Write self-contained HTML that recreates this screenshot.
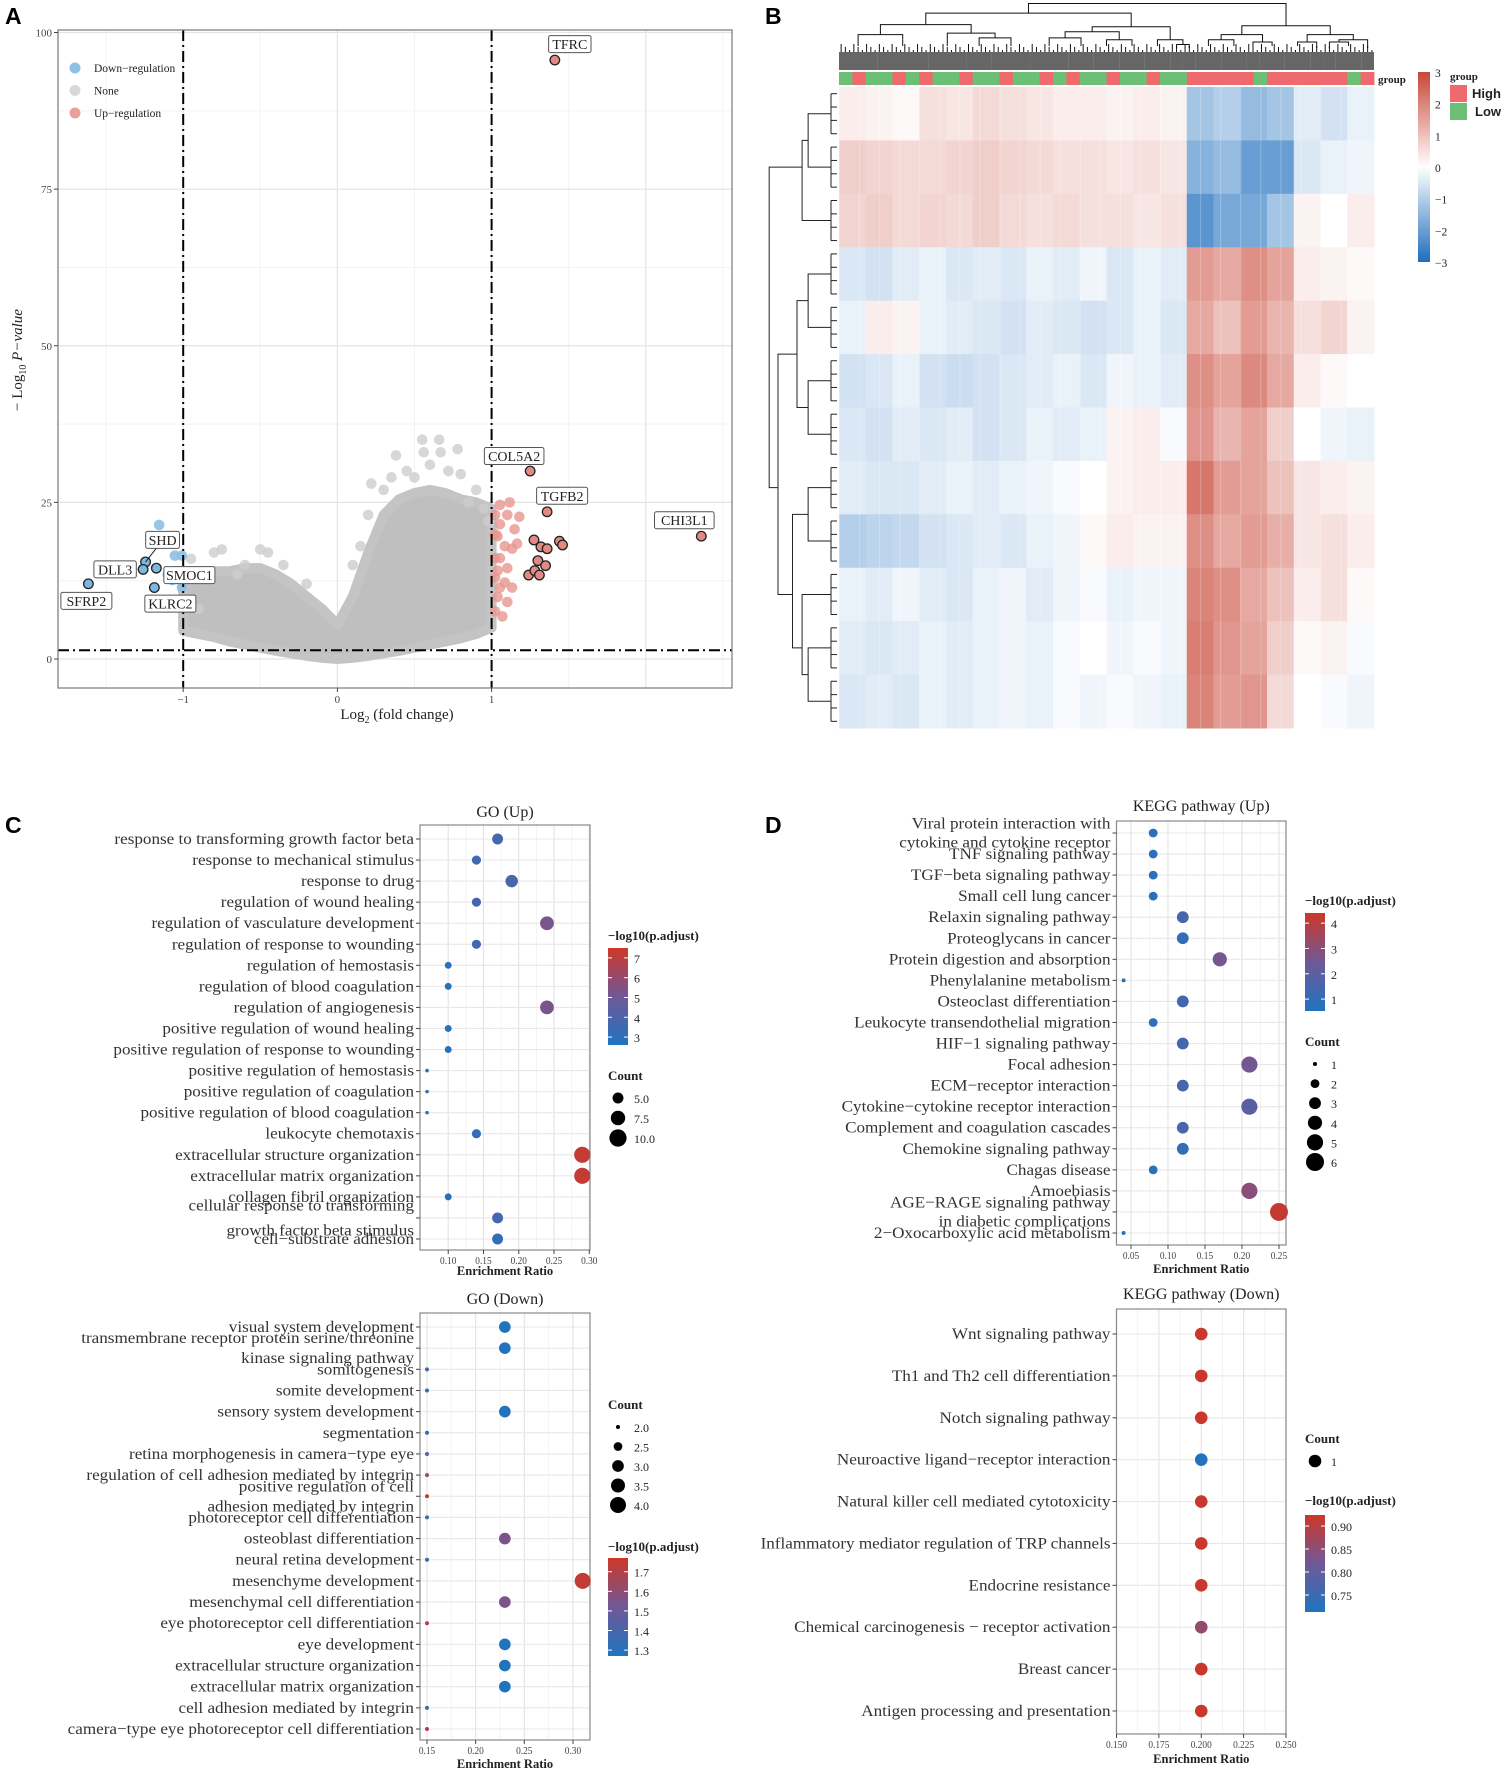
<!DOCTYPE html>
<html><head><meta charset="utf-8"><title>Figure</title>
<style>
html,body{margin:0;padding:0;background:#fff;}
svg{display:block;font-family:"Liberation Serif",serif;}
.sans{font-family:"Liberation Sans",sans-serif;}
</style></head>
<body>
<svg id="fig" xmlns="http://www.w3.org/2000/svg" width="1509" height="1772" viewBox="0 0 1509 1772"></svg>
<script>
// ---------- Panel A data ----------
const envX = [-1.0,-0.9,-0.8,-0.7,-0.6,-0.5,-0.4,-0.3,-0.2,-0.1,0,0.1,0.2,0.3,0.4,0.5,0.6,0.7,0.8,0.9,1.0];
const envUpper = [12,13,14,14,14.5,14.5,13.5,12,10,8,5.5,10,17,23,25.5,26.5,27,26.5,25.5,25,24];
const envLower = [4.5,4,3.5,2.8,2.3,1.8,1.3,0.9,0.5,0.2,0,0.2,0.5,0.9,1.3,1.8,2.3,2.8,3.3,4,5];
const grayX = [-0.95,-0.8,-0.75,-0.5,-0.45,-0.6,-0.35,-0.2,0.1,0.15,0.2,0.22,0.35,0.38,0.45,0.5,0.55,0.56,0.66,0.67,0.72,0.78,0.8,0.85,0.9,0.95,-0.9,-0.85,-0.65,0.3,0.6,0.98];
const grayY = [16,17,17.5,17.5,17,15,15,12,15,18,23,28,29,32.5,30,29,35,33,35,33,30,33.5,29.5,25,27,24,8,14,13.5,27,31,22];
const upX = [1.023,1.054,1.117,1.102,1.180,1.149,1.039,1.054,1.086,1.133,1.023,1.054,1.102,1.039,1.086,1.023,1.054,1.133,1.039,1.102,1.023,1.070,1.023,1.165];
const upY = [23.0,24.6,25.0,23.0,22.7,20.7,19.6,21.5,18.0,17.6,16.1,16.1,14.5,14.1,12.2,13.0,11.4,11.4,9.9,9.1,7.6,6.8,19.9,18.4];
const downX = [-1.156,-1.054,-1.008,-1.07,-1.008,-1.1];
const downY = [21.4,16.5,16.5,12.6,11.4,13.5];
const hlUpX = [1.275,1.32,1.36,1.44,1.46,1.24,1.28,1.30,1.31,1.35];
const hlUpY = [19.0,17.9,17.6,18.8,18.2,13.4,14.1,15.7,13.4,14.9];
const genes = ['TFRC','COL5A2','TGFB2','CHI3L1','SHD','DLL3','SMOC1','KLRC2','SFRP2'];
const geneX = [1.41,1.25,1.36,2.36,-1.244,-1.26,-1.174,-1.187,-1.615];
const geneY = [95.6,30,23.5,19.6,15.5,14.3,14.5,11.4,12.0];
const geneDir = ['up','up','up','up','down','down','down','down','down'];
const yTicksA = [0,25,50,75,100];
const xTicksA = [-1,0,1];

// ---------- Panel B data ----------
const heat = [
 [0.3,0.2,0.1,0.5,0.4,0.6,0.5,0.4,0.3,0.3,0.2,0.3,0.2,-1.2,-1.0,-1.4,-1.2,-0.4,-0.6,-0.3],
 [0.8,0.7,0.6,0.6,0.7,0.8,0.7,0.6,0.5,0.5,0.4,0.5,0.4,-1.6,-1.4,-2.0,-2.0,-0.5,-0.3,-0.2],
 [0.7,0.8,0.6,0.7,0.6,0.8,0.6,0.5,0.6,0.5,0.5,0.4,0.5,-2.2,-1.8,-1.8,-1.2,0.2,0.0,0.3],
 [-0.5,-0.6,-0.4,-0.3,-0.5,-0.4,-0.5,-0.3,-0.4,-0.2,-0.5,-0.3,-0.4,1.6,1.4,1.8,1.5,0.3,0.2,0.1],
 [-0.3,0.3,0.2,-0.3,-0.4,-0.5,-0.6,-0.4,-0.5,-0.6,-0.5,-0.3,-0.5,1.4,1.0,1.6,1.2,0.5,0.7,0.2],
 [-0.6,-0.5,-0.3,-0.6,-0.7,-0.6,-0.5,-0.4,-0.3,-0.5,-0.2,-0.3,-0.4,1.8,1.5,1.9,1.4,0.3,0.1,0.0],
 [-0.5,-0.6,-0.4,-0.5,-0.4,-0.6,-0.5,-0.3,-0.4,-0.3,0.2,0.3,-0.1,1.7,1.2,1.5,0.8,0.0,-0.2,-0.3],
 [-0.4,-0.5,-0.5,-0.4,-0.3,-0.4,-0.3,-0.2,-0.1,0.0,0.2,0.3,0.3,2.2,1.6,1.5,1.0,0.4,0.3,0.2],
 [-1.0,-0.9,-0.8,-0.6,-0.5,-0.4,-0.5,-0.3,-0.2,0.1,0.3,0.2,0.2,1.8,1.4,1.6,1.3,0.4,0.5,0.3],
 [-0.3,-0.4,-0.2,-0.4,-0.5,-0.3,-0.2,-0.4,-0.2,-0.1,-0.3,-0.2,-0.2,2.0,1.8,1.4,1.0,0.3,0.5,0.1],
 [-0.4,-0.5,-0.4,-0.3,-0.4,-0.3,-0.2,-0.3,-0.1,0.0,-0.2,-0.1,-0.2,2.1,1.7,1.5,0.8,0.1,0.2,-0.1],
 [-0.5,-0.4,-0.5,-0.3,-0.4,-0.3,-0.2,-0.3,-0.1,-0.2,-0.1,-0.2,-0.3,2.0,1.6,1.7,0.6,0.0,-0.1,-0.2]
];
const groupBands = ['L','H','L','L','H','L','H','L','L','H','L','L','H','L','L','H','L','H','L','L','H','L','L','H','L','L','H','H','H','H','H','L','H','H','H','H','H','H','L','H'];
const colTree = [[[[3,4],[3,[2,3]]],[[[3,2],[2,2]],[2,[1,1]]]],[[[2,2],[1,2]],[[2,1],[[1,2],1]]]];
const rowTree = [[[1,1],1],[[[1,1],[1,1]],[[1,1],[1,[1,1]]]]];
const heatTicks = [3,2,1,0,-1,-2,-3];

// ---------- Panel C/D data ----------
const goUpTerms = ['response to transforming growth factor beta','response to mechanical stimulus','response to drug','regulation of wound healing','regulation of vasculature development','regulation of response to wounding','regulation of hemostasis','regulation of blood coagulation','regulation of angiogenesis','positive regulation of wound healing','positive regulation of response to wounding','positive regulation of hemostasis','positive regulation of coagulation','positive regulation of blood coagulation','leukocyte chemotaxis','extracellular structure organization','extracellular matrix organization','collagen fibril organization','cellular response to transforming|growth factor beta stimulus','cell\u2212substrate adhesion'];
const goUpRatio = [0.17,0.14,0.19,0.14,0.24,0.14,0.10,0.10,0.24,0.10,0.10,0.07,0.07,0.07,0.14,0.29,0.29,0.10,0.17,0.17];
const goUpP = [3.8,3.6,3.9,3.7,5.3,3.6,2.9,2.9,5.3,2.9,2.9,2.8,2.8,2.8,3.1,7.2,7.2,3.0,3.6,3.2];
const goUpCount = [5,4,6,4,7,4,3,3,7,3,3,2,2,2,4,9,9,3,5,5];
const goUpXTicks = [0.10,0.15,0.20,0.25,0.30];
const goUpPTicks = [3,4,5,6,7];
const goUpCountTicks = [5.0,7.5,10.0];

const goDownTerms = ['visual system development','transmembrane receptor protein serine/threonine|kinase signaling pathway','somitogenesis','somite development','sensory system development','segmentation','retina morphogenesis in camera\u2212type eye','regulation of cell adhesion mediated by integrin','positive regulation of cell|adhesion mediated by integrin','photoreceptor cell differentiation','osteoblast differentiation','neural retina development','mesenchyme development','mesenchymal cell differentiation','eye photoreceptor cell differentiation','eye development','extracellular structure organization','extracellular matrix organization','cell adhesion mediated by integrin','camera\u2212type eye photoreceptor cell differentiation'];
const goDownRatio = [0.23,0.23,0.15,0.15,0.23,0.15,0.15,0.15,0.15,0.15,0.23,0.15,0.31,0.23,0.15,0.23,0.23,0.23,0.15,0.15];
const goDownP = [1.28,1.28,1.4,1.3,1.28,1.3,1.42,1.6,1.72,1.36,1.55,1.35,1.74,1.55,1.68,1.28,1.28,1.28,1.36,1.68];
const goDownCount = [3,3,2,2,3,2,2,2,2,2,3,2,4,3,2,3,3,3,2,2];
const goDownXTicks = [0.15,0.20,0.25,0.30];
const goDownPTicks = [1.3,1.4,1.5,1.6,1.7];
const goDownCountTicks = [2.0,2.5,3.0,3.5,4.0];

const keggUpTerms = ['Viral protein interaction with|cytokine and cytokine receptor','TNF signaling pathway','TGF\u2212beta signaling pathway','Small cell lung cancer','Relaxin signaling pathway','Proteoglycans in cancer','Protein digestion and absorption','Phenylalanine metabolism','Osteoclast differentiation','Leukocyte transendothelial migration','HIF\u22121 signaling pathway','Focal adhesion','ECM\u2212receptor interaction','Cytokine\u2212cytokine receptor interaction','Complement and coagulation cascades','Chemokine signaling pathway','Chagas disease','Amoebiasis','AGE\u2212RAGE signaling pathway|in diabetic complications','2\u2212Oxocarboxylic acid metabolism'];
const keggUpRatio = [0.08,0.08,0.08,0.08,0.12,0.12,0.17,0.04,0.12,0.08,0.12,0.21,0.12,0.21,0.12,0.12,0.08,0.21,0.25,0.04];
const keggUpP = [0.8,0.8,0.8,0.8,1.5,1.0,2.6,0.7,1.4,0.8,1.4,2.5,1.5,1.9,1.5,1.0,0.8,3.0,4.2,0.7];
const keggUpCount = [2,2,2,2,3,3,4,1,3,2,3,5,3,5,3,3,2,5,6,1];
const keggUpXTicks = [0.05,0.10,0.15,0.20,0.25];
const keggUpPTicks = [1,2,3,4];
const keggUpCountTicks = [1,2,3,4,5,6];

const keggDownTerms = ['Wnt signaling pathway','Th1 and Th2 cell differentiation','Notch signaling pathway','Neuroactive ligand\u2212receptor interaction','Natural killer cell mediated cytotoxicity','Inflammatory mediator regulation of TRP channels','Endocrine resistance','Chemical carcinogenesis \u2212 receptor activation','Breast cancer','Antigen processing and presentation'];
const keggDownRatio = [0.2,0.2,0.2,0.2,0.2,0.2,0.2,0.2,0.2,0.2];
const keggDownP = [0.92,0.92,0.92,0.72,0.92,0.92,0.92,0.86,0.92,0.92];
const keggDownCount = [1,1,1,1,1,1,1,1,1,1];
const keggDownXTicks = [0.150,0.175,0.200,0.225,0.250];
const keggDownPTicks = [0.75,0.80,0.85,0.90];
const keggDownCountTicks = [1];

// ---------- helpers ----------
const svg = document.getElementById('fig');
const NS = 'http://www.w3.org/2000/svg';
function mk(tag, attrs, parent){
  const e = document.createElementNS(NS, tag);
  for (const k in attrs) e.setAttribute(k, attrs[k]);
  (parent || svg).appendChild(e);
  return e;
}
function nm(e, n, inter){
  
  
  return e;
}
function txt(x, y, s, size, anchor, extra, parent){
  const a = Object.assign({x:x, y:y, 'font-size':size, 'text-anchor':anchor||'start', fill:'#222'}, extra||{});
  const t = mk('text', a, parent);
  t.textContent = s;
  return t;
}
function grp(name){ const g = mk('g', {}); nm(g, name, false); return g; }

// ---------- Panel letters ----------
[['A',5,24],['B',765,24],['C',5,833],['D',765,833]].forEach(L=>{
  const t = txt(L[1], L[2], L[0], 23, 'start', {'font-weight':'bold', 'class':'sans', fill:'#000'});
  nm(t, 'panel-label-'+L[0].toLowerCase(), false);
});

// ---------- Panel A: volcano ----------
(function(){
  const g = grp('volcano-plot');
  const X0=58, X1=732, Y0=30, Y1=688;
  const xA = v => 337.4 + v*154.2;
  const yA = v => 659 - v*6.265;
  const bg = mk('rect',{x:X0,y:Y0,width:X1-X0,height:Y1-Y0,fill:'#fff'},g); nm(bg,'plot-background',false);
  [-1.5,-0.5,0.5,1.5,2.5].forEach(v=>{ const l=mk('line',{x1:xA(v),x2:xA(v),y1:Y0,y2:Y1,stroke:'#f3f3f3','stroke-width':1},g); nm(l,'minor-gridline',false);});
  [12.5,37.5,62.5,87.5].forEach(v=>{ const l=mk('line',{x1:X0,x2:X1,y1:yA(v),y2:yA(v),stroke:'#f3f3f3','stroke-width':1},g); nm(l,'minor-gridline',false);});
  [-1,0,1,2].forEach(v=>{ const l=mk('line',{x1:xA(v),x2:xA(v),y1:Y0,y2:Y1,stroke:'#e4e4e4','stroke-width':1.2},g); nm(l,'x-gridline',false);});
  yTicksA.forEach(v=>{ const l=mk('line',{x1:X0,x2:X1,y1:yA(v),y2:yA(v),stroke:'#e4e4e4','stroke-width':1.2},g); nm(l,'y-gridline',false);});
  let d='';
  envX.forEach((x,i)=>{ d += (i?'L':'M')+xA(x)+','+yA(envUpper[i]); });
  for (let i=envX.length-1;i>=0;i--) d += 'L'+xA(envX[i])+','+yA(envLower[i]);
  const cloud = mk('path',{d:d+'Z',fill:'#bfbfbf',stroke:'#c4c4c4','stroke-width':10,'stroke-linejoin':'round'},g); nm(cloud,'nonsignificant-points',false);
  grayX.forEach((x,i)=>{ const c=mk('circle',{cx:xA(x),cy:yA(grayY[i]),r:5.3,fill:'#cdcdcd','fill-opacity':0.8},g); nm(c,'gray-point',false);});
  upX.forEach((x,i)=>{ const c=mk('circle',{cx:xA(x),cy:yA(upY[i]),r:5.3,fill:'#e7968f','fill-opacity':0.8},g); nm(c,'up-point',false);});
  downX.forEach((x,i)=>{ const c=mk('circle',{cx:xA(x),cy:yA(downY[i]),r:5.3,fill:'#8cc0e4','fill-opacity':0.9},g); nm(c,'down-point',false);});
  hlUpX.forEach((x,i)=>{ const c=mk('circle',{cx:xA(x),cy:yA(hlUpY[i]),r:4.8,fill:'#e08a82',stroke:'#222','stroke-width':1.3},g); nm(c,'highlighted-up-point',false);});
  const dash = '11,4,2,4';
  [-1,1].forEach(v=>{ const l=mk('line',{x1:xA(v),x2:xA(v),y1:Y0,y2:Y1,stroke:'#000','stroke-width':2,'stroke-dasharray':dash},g); nm(l,'fold-change-threshold',false);});
  const hl=mk('line',{x1:X0,x2:X1,y1:yA(1.4),y2:yA(1.4),stroke:'#000','stroke-width':2,'stroke-dasharray':dash},g); nm(hl,'pvalue-threshold',false);
  const lblOff = {TFRC:[15,-16],COL5A2:[-16,-15],TGFB2:[15,-16],CHI3L1:[-17,-16],SHD:[17,-22],DLL3:[-28,0],SMOC1:[33,7],KLRC2:[16,16],SFRP2:[-2,17]};
  genes.forEach((gname,i)=>{
    const px=xA(geneX[i]), py=yA(geneY[i]);
    const c=mk('circle',{cx:px,cy:py,r:4.8,fill:geneDir[i]==='up'?'#e08a82':'#7fb6de',stroke:'#222','stroke-width':1.3},g); nm(c,'gene-point-'+gname.toLowerCase(),false);
    const o=lblOff[gname]; const lx=px+o[0], ly=py+o[1];
    const w = gname.length*8.6+8;
    if (gname==='SHD'){ const ln=mk('line',{x1:px,y1:py,x2:lx-6,y2:ly+8,stroke:'#222','stroke-width':1},g); nm(ln,'label-leader',false);}
    const r=mk('rect',{x:lx-w/2,y:ly-8.5,width:w,height:17,rx:2,fill:'#fff',stroke:'#555','stroke-width':1},g); nm(r,'gene-label-box',false);
    const t=txt(lx,ly+5,gname,14,'middle',{},g); nm(t,'gene-label-'+gname.toLowerCase(),false);
  });
  const border=mk('rect',{x:X0,y:Y0,width:X1-X0,height:Y1-Y0,fill:'none',stroke:'#777','stroke-width':1.2},g); nm(border,'plot-border',false);
  yTicksA.forEach(v=>{ const tk=mk('line',{x1:X0-4,x2:X0,y1:yA(v),y2:yA(v),stroke:'#444'},g); nm(tk,'y-tick',false);
    const t=txt(X0-6,yA(v)+4,String(v),11,'end',{fill:'#444'},g); nm(t,'y-tick-label',false);});
  xTicksA.forEach(v=>{ const tk=mk('line',{x1:xA(v),x2:xA(v),y1:Y1,y2:Y1+4,stroke:'#444'},g); nm(tk,'x-tick',false);
    const t=txt(xA(v),Y1+15,v<0?'\u2212'+Math.abs(v):String(v),11,'middle',{fill:'#444'},g); nm(t,'x-tick-label',false);});
  const xt=mk('text',{x:397,y:719,'font-size':15,'text-anchor':'middle',fill:'#222'},g); nm(xt,'x-axis-title',false);
  xt.innerHTML='Log<tspan font-size="10" dy="4">2</tspan><tspan dy="-4"> (fold change)</tspan>';
  const yt=mk('text',{x:0,y:0,'font-size':15,'text-anchor':'middle',fill:'#222',transform:'translate(22,360) rotate(-90)'},g); nm(yt,'y-axis-title',false);
  yt.innerHTML='\u2212 Log<tspan font-size="10" dy="4">10</tspan><tspan dy="-4" font-style="italic"> P\u2212value</tspan>';
  const legItems=[['Down\u2212regulation','#8cc0e4'],['None','#d8d8d8'],['Up\u2212regulation','#e9a19b']];
  legItems.forEach((it,i)=>{ const y=68+i*22.5;
    const c=mk('circle',{cx:75,cy:y,r:5.5,fill:it[1]},g); nm(c,'legend-key',false);
    const t=txt(94,y+4,it[0],11.5,'start',{},g); nm(t,'legend-entry',false);});
})();

// ---------- Panel B: heatmap ----------
(function(){
  const g = grp('heatmap');
  const HX0=839, HX1=1374, HY0=87, HY1=728;
  const nR=heat.length, nC=heat[0].length;
  const cw=(HX1-HX0)/nC, rh=(HY1-HY0)/nR;
  function hcol(v){
    v=Math.max(-3,Math.min(3,v));
    let c;
    if(v>=0){ const t=v/3; c=[255+(200-255)*t,255+(70-255)*t,255+(55-255)*t]; }
    else { const t=-v/3; c=[255+(30-255)*t,255+(110-255)*t,255+(190-255)*t]; }
    return 'rgb('+c.map(Math.round).join(',')+')';
  }
  heat.forEach((row,r)=>row.forEach((v,c)=>{
    const rc=mk('rect',{x:HX0+c*cw,y:HY0+r*rh,width:cw+0.5,height:rh+0.5,fill:hcol(v)},g);
    nm(rc,'heatmap-cell',false);
  }));
  for(let c=0;c<nC*4;c++){ if(c%3===0){ const l=mk('rect',{x:HX0+c*cw/4,y:HY0,width:1,height:HY1-HY0,fill:'#fff','fill-opacity':0.25},g); nm(l,'heatmap-texture',false);} }
  const bw=(HX1-HX0)/groupBands.length;
  groupBands.forEach((b,i)=>{ const r=mk('rect',{x:HX0+i*bw,y:72,width:bw+0.4,height:13,fill:b==='H'?'#ee6a6e':'#6cbf75'},g); nm(r,'group-annotation-cell',false);});
  const gl=txt(1378,83,'group',11,'start',{'font-weight':'bold'},g); nm(gl,'annotation-label',false);
  function size(n){ return typeof n==='number'? n : size(n[0])+size(n[1]); }
  const leafW=(HX1-HX0)/size(colTree);
  function drawCol(node, start){
    const s=size(node);
    const y=56-8.1*Math.sqrt(s);
    const mid=HX0+(start+s/2)*leafW;
    if(typeof node==='number'){
      const r=mk('rect',{x:HX0+start*leafW,y:52,width:s*leafW,height:18,fill:'#333','fill-opacity':0.75},g); nm(r,'dendrogram-leaves',false);
      for(let k=0;k<s*3;k++){ const xx=HX0+(start+(k+0.5)/3)*leafW; const l=mk('line',{x1:xx,x2:xx,y1:44+(k%3)*3,y2:52,stroke:'#111','stroke-width':1},g); nm(l,'dendrogram-leaf',false);}
      const v=mk('line',{x1:mid,x2:mid,y1:y,y2:46,stroke:'#111','stroke-width':1},g); nm(v,'dendrogram-branch',false);
      return {x:mid,y:y};
    }
    const a=drawCol(node[0],start), b=drawCol(node[1],start+size(node[0]));
    const h=mk('path',{d:`M${a.x},${a.y}V${y}H${b.x}V${b.y}`,fill:'none',stroke:'#111','stroke-width':1},g); nm(h,'dendrogram-branch',false);
    return {x:(a.x+b.x)/2,y:y};
  }
  drawCol(colTree,0);
  function drawRow(node,start){
    const s=size(node);
    const x=HX0-4-19*Math.sqrt(s)+ (s===1?15:0);
    const mid=HY0+(start+s/2)*rh;
    if(typeof node==='number'){
      for(let k=0;k<4;k++){ const yy=HY0+(start+(k+0.5)/4)*rh; const l=mk('line',{x1:x,x2:HX0-2,y1:yy,y2:yy,stroke:'#222','stroke-width':1},g); nm(l,'row-dendrogram-leaf',false);}
      const v=mk('line',{x1:x,x2:x,y1:HY0+(start+0.125)*rh,y2:HY0+(start+0.875)*rh,stroke:'#222','stroke-width':1},g); nm(v,'row-dendrogram-branch',false);
      return {x:x,y:mid};
    }
    const a=drawRow(node[0],start), b=drawRow(node[1],start+size(node[0]));
    const p=mk('path',{d:`M${a.x},${a.y}H${x}V${b.y}H${b.x}`,fill:'none',stroke:'#222','stroke-width':1},g); nm(p,'row-dendrogram-branch',false);
    return {x:x,y:mid};
  }
  drawRow(rowTree,0);
  const defs=mk('defs',{},g);
  const lg=mk('linearGradient',{id:'hgrad',x1:0,y1:0,x2:0,y2:1},defs);
  [[0,'rgb(200,70,55)'],[0.5,'#fff'],[1,'rgb(30,110,190)']].forEach(s=>mk('stop',{offset:s[0],'stop-color':s[1]},lg));
  const cb=mk('rect',{x:1418,y:72,width:12,height:190,fill:'url(#hgrad)'},g); nm(cb,'heatmap-colorbar',false);
  heatTicks.forEach(v=>{ const y=167-v*31.67; const t=txt(1435,y+5,v<0?'\u2212'+Math.abs(v):String(v),11.5,'start',{},g); nm(t,'colorbar-tick-label',false);});
  const gt=txt(1450,80,'group',11,'start',{'font-weight':'bold'},g); nm(gt,'group-legend-title',false);
  const hb=mk('rect',{x:1450,y:85,width:17,height:17,fill:'#ee6a6e'},g); nm(hb,'legend-key-high',false);
  const lb=mk('rect',{x:1450,y:103,width:17,height:17,fill:'#6cbf75'},g); nm(lb,'legend-key-low',false);
  const ht=txt(1472,98,'High',13,'start',{'font-weight':'bold','class':'sans'},g); nm(ht,'legend-entry-high',false);
  const lt=txt(1475,116,'Low',13,'start',{'font-weight':'bold','class':'sans'},g); nm(lt,'legend-entry-low',false);
})();

// ---------- Dot plots ----------
const BLUE=[31,116,192], MID=[112,88,150], RED=[205,55,40];
function pcol(t){
  t=Math.max(0,Math.min(1,t));
  let a,b,u;
  if(t<0.5){a=BLUE;b=MID;u=t/0.5;} else {a=MID;b=RED;u=(t-0.5)/0.5;}
  return 'rgb('+[0,1,2].map(i=>Math.round(a[i]+(b[i]-a[i])*u)).join(',')+')';
}
function dotPlot(cfg){
  const g=grp(cfg.name);
  const {X0,X1,Y0,Y1}=cfg;
  const xs=v=>X0+(v-cfg.xMin)/(cfg.xMax-cfg.xMin)*(X1-X0);
  const n=cfg.terms.length;
  const ys=i=>cfg.rowFirst+i*(cfg.rowLast-cfg.rowFirst)/(n-1);
  const rs=c=>{ if(cfg.cMax===cfg.cMin) return cfg.rMax; const t=(c-cfg.cMin)/(cfg.cMax-cfg.cMin); return Math.sqrt(cfg.rMin*cfg.rMin+t*(cfg.rMax*cfg.rMax-cfg.rMin*cfg.rMin)); };
  const bg=mk('rect',{x:X0,y:Y0,width:X1-X0,height:Y1-Y0,fill:'#fff'},g); nm(bg,'plot-background',false);
  for(let i=0;i<cfg.xTicks.length-1;i++){ const m=(cfg.xTicks[i]+cfg.xTicks[i+1])/2; const l=mk('line',{x1:xs(m),x2:xs(m),y1:Y0,y2:Y1,stroke:'#f3f3f3'},g); nm(l,'minor-gridline',false);}
  cfg.xTicks.forEach(v=>{ const l=mk('line',{x1:xs(v),x2:xs(v),y1:Y0,y2:Y1,stroke:'#e2e2e2','stroke-width':1.1},g); nm(l,'x-gridline',false);});
  cfg.terms.forEach((t,i)=>{ const l=mk('line',{x1:X0,x2:X1,y1:ys(i),y2:ys(i),stroke:'#e8e8e8','stroke-width':1.1},g); nm(l,'y-gridline',false);});
  const border=mk('rect',{x:X0,y:Y0,width:X1-X0,height:Y1-Y0,fill:'none',stroke:'#888','stroke-width':1.2},g); nm(border,'plot-border',false);
  cfg.terms.forEach((t,i)=>{
    const y=ys(i);
    const tk=mk('line',{x1:X0-4,x2:X0,y1:y,y2:y,stroke:'#444'},g); nm(tk,'y-tick',false);
    const lines=t.split('|');
    lines.forEach((ln,k)=>{ const yy=y+5+(k-(lines.length-1)/2)*cfg.lineGap;
      const ax=X0-6;
      const tx=txt(ax,yy,ln,16,'end',{fill:'#333',transform:`translate(${ax},0) scale(1.07,1) translate(${-ax},0)`},g); nm(tx,'term-label',false);});
    const c=mk('circle',{cx:xs(cfg.ratio[i]),cy:y,r:rs(cfg.count[i]),fill:pcol((cfg.p[i]-cfg.pMin)/(cfg.pMax-cfg.pMin))},g);
    nm(c,'dot-'+lines.join(' ').replace(/[^a-zA-Z0-9]+/g,'-').toLowerCase().slice(0,40),false);
  });
  cfg.xTicks.forEach(v=>{ const tk=mk('line',{x1:xs(v),x2:xs(v),y1:Y1,y2:Y1+4,stroke:'#444'},g); nm(tk,'x-tick',false);
    const t=txt(xs(v),Y1+14,v.toFixed(cfg.xDec),11,'middle',{fill:'#444',transform:`translate(${xs(v)},0) scale(0.85,1) translate(${-xs(v)},0)`},g); nm(t,'x-tick-label',false);});
  const xt=txt((X0+X1)/2,cfg.xTitleY,'Enrichment Ratio',12.5,'middle',{'font-weight':'bold'},g); nm(xt,'x-axis-title',false);
  const tt=txt((X0+X1)/2,cfg.titleY,cfg.title,16,'middle',{},g); nm(tt,'chart-title',false);
  const gid='g_'+cfg.name;
  const defs=mk('defs',{},g);
  const lg=mk('linearGradient',{id:gid,x1:0,y1:1,x2:0,y2:0},defs);
  [0,0.5,1].forEach(s=>mk('stop',{offset:s,'stop-color':pcol(s)},lg));
  const ct=txt(cfg.legX,cfg.cTitleY,'\u2212log10(p.adjust)',13,'start',{'font-weight':'bold'},g); nm(ct,'color-legend-title',false);
  const cb=mk('rect',{x:cfg.legX,y:cfg.cbY0,width:20,height:cfg.cbY1-cfg.cbY0,fill:`url(#${gid})`},g); nm(cb,'color-legend-bar',false);
  const cy=v=>cfg.cbY1-(v-cfg.pMin)/(cfg.pMax-cfg.pMin)*(cfg.cbY1-cfg.cbY0);
  cfg.pTicks.forEach(v=>{ const l=mk('line',{x1:cfg.legX,x2:cfg.legX+4,y1:cy(v),y2:cy(v),stroke:'#fff'},g); nm(l,'color-legend-tick',false);
    const l2=mk('line',{x1:cfg.legX+16,x2:cfg.legX+20,y1:cy(v),y2:cy(v),stroke:'#fff'},g); nm(l2,'color-legend-tick',false);
    const t=txt(cfg.legX+26,cy(v)+5,cfg.pDec?v.toFixed(cfg.pDec):String(v),12,'start',{},g); nm(t,'color-legend-label',false);});
  const st=txt(cfg.legX,cfg.sTitleY,'Count',13,'start',{'font-weight':'bold'},g); nm(st,'size-legend-title',false);
  cfg.cTicks.forEach((v,i)=>{ const y=cfg.sY0+i*cfg.sGap;
    const c=mk('circle',{cx:cfg.legX+10,cy:y,r:rs(v),fill:'#000'},g); nm(c,'size-legend-key',false);
    const t=txt(cfg.legX+26,y+5,cfg.cDec?v.toFixed(cfg.cDec):String(v),12,'start',{},g); nm(t,'size-legend-label',false);});
}

dotPlot({name:'go-up-chart',title:'GO (Up)',terms:goUpTerms,ratio:goUpRatio,p:goUpP,count:goUpCount,
  X0:420,X1:590,Y0:825,Y1:1250,xMin:0.060,xMax:0.301,rowFirst:839,rowLast:1239,xTicks:goUpXTicks,xDec:2,
  xTitleY:1275,titleY:817,lineGap:25,pMin:2.6,pMax:7.5,pTicks:goUpPTicks,pDec:0,
  cMin:2,cMax:10,rMin:1.8,rMax:8.6,cTicks:goUpCountTicks,cDec:1,
  legX:608,cTitleY:940,cbY0:948,cbY1:1045,sTitleY:1080,sY0:1098,sGap:20});
dotPlot({name:'go-down-chart',title:'GO (Down)',terms:goDownTerms,ratio:goDownRatio,p:goDownP,count:goDownCount,
  X0:420,X1:590,Y0:1313,Y1:1740,xMin:0.1428,xMax:0.3175,rowFirst:1327,rowLast:1729,xTicks:goDownXTicks,xDec:2,
  xTitleY:1768,titleY:1304,lineGap:20,pMin:1.27,pMax:1.77,pTicks:goDownPTicks,pDec:1,
  cMin:2,cMax:4,rMin:2,rMax:8,cTicks:goDownCountTicks,cDec:1,
  legX:608,cTitleY:1551,cbY0:1558,cbY1:1656,sTitleY:1409,sY0:1427,sGap:19.5});
dotPlot({name:'kegg-up-chart',title:'KEGG pathway (Up)',terms:keggUpTerms,ratio:keggUpRatio,p:keggUpP,count:keggUpCount,
  X0:1116.5,X1:1286,Y0:821,Y1:1245,xMin:0.0304,xMax:0.2595,rowFirst:833,rowLast:1233,xTicks:keggUpXTicks,xDec:2,
  xTitleY:1273,titleY:811,lineGap:19,pMin:0.53,pMax:4.4,pTicks:keggUpPTicks,pDec:0,
  cMin:1,cMax:6,rMin:2,rMax:9,cTicks:keggUpCountTicks,cDec:0,
  legX:1305,cTitleY:905,cbY0:913,cbY1:1011,sTitleY:1046,sY0:1064,sGap:19.6});
dotPlot({name:'kegg-down-chart',title:'KEGG pathway (Down)',terms:keggDownTerms,ratio:keggDownRatio,p:keggDownP,count:keggDownCount,
  X0:1116.5,X1:1286,Y0:1309,Y1:1734,xMin:0.150,xMax:0.250,rowFirst:1334,rowLast:1711,xTicks:keggDownXTicks,xDec:3,
  xTitleY:1763,titleY:1299,lineGap:19,pMin:0.713,pMax:0.924,pTicks:keggDownPTicks,pDec:2,
  cMin:1,cMax:1,rMin:6.3,rMax:6.3,cTicks:keggDownCountTicks,cDec:0,
  legX:1305,cTitleY:1505,cbY0:1515,cbY1:1612,sTitleY:1443,sY0:1461,sGap:20});
</script>
</body></html>
